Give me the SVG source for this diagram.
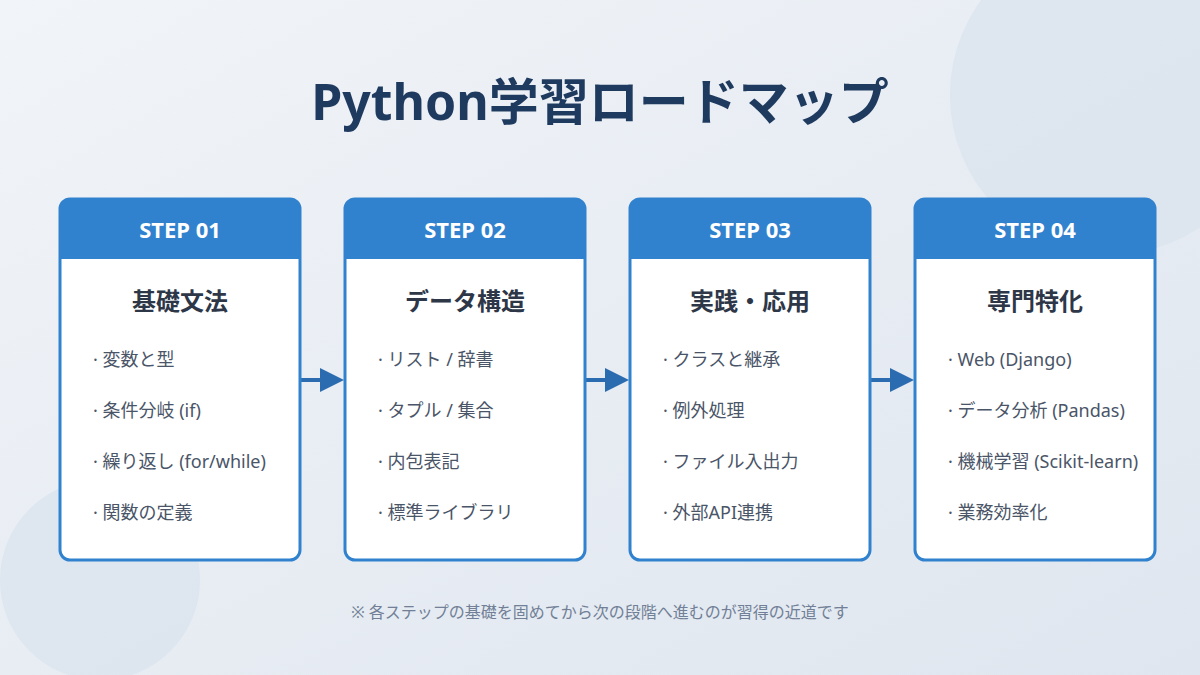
<svg xmlns="http://www.w3.org/2000/svg" width="1200" height="675" viewBox="0 0 1200 675">
<defs>
<linearGradient id="bg" x1="0" y1="0" x2="1" y2="1"><stop offset="0" stop-color="#f1f4f8"/><stop offset="1" stop-color="#dfe6ef"/></linearGradient>
<marker id="ah" markerWidth="6" markerHeight="6" refX="5" refY="3" orient="auto" markerUnits="strokeWidth"><path d="M0,0 L6,3 L0,6 Z" fill="#2b6cb0"/></marker>
<style>
text{font-family:"Noto Sans","Noto Sans CJK JP",sans-serif}
.card{fill:#fff;stroke:#3182ce;stroke-width:3}
.hd{fill:#3182ce}
.st{fill:#fff;font-size:22px;font-weight:700;text-anchor:middle}
.tt{fill:#2d3748;font-size:24px;font-weight:700;text-anchor:middle}
.it{fill:#4a5568;font-size:18px}
.cn{stroke:#2b6cb0;stroke-width:4;fill:none}
</style>
</defs>
<rect width="1200" height="675" fill="url(#bg)"/>
<circle cx="1110" cy="95" r="160" fill="#dbe4ee" opacity="0.8"/>
<circle cx="100" cy="580" r="100" fill="#dbe4ee" opacity="0.8"/>
<text x="600" y="120" text-anchor="middle" font-size="50" font-weight="700" fill="#1e3a5f">Python学習ロードマップ</text>
<g id="connectors">
<line class="cn" x1="300" y1="380" x2="340" y2="380" marker-end="url(#ah)"/>
<line class="cn" x1="585" y1="380" x2="625" y2="380" marker-end="url(#ah)"/>
<line class="cn" x1="870" y1="380" x2="910" y2="380" marker-end="url(#ah)"/>
</g>
<g id="step1">
<rect class="card" x="60" y="199" width="240" height="361" rx="10"/>
<path class="hd" d="M70,199 H290 A10,10 0 0 1 300,209 V259 H60 V209 A10,10 0 0 1 70,199 Z"/>
<text class="st" x="180" y="238">STEP 01</text>
<text class="tt" x="180" y="310">基礎文法</text>
<text class="it" x="93" y="366">· 変数と型</text>
<text class="it" x="93" y="417">· 条件分岐 (if)</text>
<text class="it" x="93" y="468">· 繰り返し (for/while)</text>
<text class="it" x="93" y="519">· 関数の定義</text>
</g>
<g id="step2">
<rect class="card" x="345" y="199" width="240" height="361" rx="10"/>
<path class="hd" d="M355,199 H575 A10,10 0 0 1 585,209 V259 H345 V209 A10,10 0 0 1 355,199 Z"/>
<text class="st" x="465" y="238">STEP 02</text>
<text class="tt" x="465" y="310">データ構造</text>
<text class="it" x="378" y="366">· リスト / 辞書</text>
<text class="it" x="378" y="417">· タプル / 集合</text>
<text class="it" x="378" y="468">· 内包表記</text>
<text class="it" x="378" y="519">· 標準ライブラリ</text>
</g>
<g id="step3">
<rect class="card" x="630" y="199" width="240" height="361" rx="10"/>
<path class="hd" d="M640,199 H860 A10,10 0 0 1 870,209 V259 H630 V209 A10,10 0 0 1 640,199 Z"/>
<text class="st" x="750" y="238">STEP 03</text>
<text class="tt" x="750" y="310">実践・応用</text>
<text class="it" x="663" y="366">· クラスと継承</text>
<text class="it" x="663" y="417">· 例外処理</text>
<text class="it" x="663" y="468">· ファイル入出力</text>
<text class="it" x="663" y="519">· 外部API連携</text>
</g>
<g id="step4">
<rect class="card" x="915" y="199" width="240" height="361" rx="10"/>
<path class="hd" d="M925,199 H1145 A10,10 0 0 1 1155,209 V259 H915 V209 A10,10 0 0 1 925,199 Z"/>
<text class="st" x="1035" y="238">STEP 04</text>
<text class="tt" x="1035" y="310">専門特化</text>
<text class="it" x="948" y="366">· Web (Django)</text>
<text class="it" x="948" y="417">· データ分析 (Pandas)</text>
<text class="it" x="948" y="468">· 機械学習 (Scikit-learn)</text>
<text class="it" x="948" y="519">· 業務効率化</text>
</g>
<text x="600" y="618" text-anchor="middle" font-size="16" fill="#718096">※ 各ステップの基礎を固めてから次の段階へ進むのが習得の近道です</text>
</svg>
